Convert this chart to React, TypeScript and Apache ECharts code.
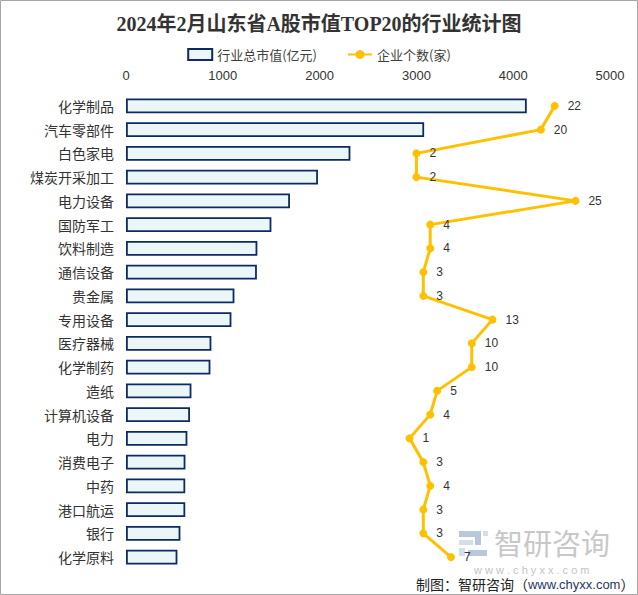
import React, { useEffect, useRef } from "react";
import * as echarts from "echarts";

const categories = [
  "化学制品", "汽车零部件", "白色家电", "煤炭开采加工", "电力设备",
  "国防军工", "饮料制造", "通信设备", "贵金属", "专用设备",
  "医疗器械", "化学制药", "造纸", "计算机设备", "电力",
  "消费电子", "中药", "港口航运", "银行", "化学原料",
];
const marketValues = [
  4140, 3080, 2318, 1983, 1694,
  1502, 1357, 1352, 1120, 1089,
  882, 872, 676, 661, 634,
  614, 612, 612, 562, 531,
];
const companyCounts = [22, 20, 2, 2, 25, 4, 4, 3, 3, 13, 10, 10, 5, 4, 1, 3, 4, 3, 3, 7];
const xTicks = { min: 0, max: 5000, interval: 1000 };

export default function App() {
  const ref = useRef<HTMLDivElement>(null);
  useEffect(() => {
    if (!ref.current) return;
    const chart = echarts.init(ref.current, null, { renderer: "svg" });
    const cjk = "'Noto Sans CJK SC', 'Noto Sans', sans-serif";
    chart.setOption({
      animation: false,
      backgroundColor: "#ffffff",
      textStyle: { fontFamily: cjk },
      title: {
        text: "2024年2月山东省A股市值TOP20的行业统计图",
        left: "center",
        top: 9,
        textStyle: {
          fontFamily: "'Liberation Serif', 'Noto Sans CJK SC', serif",
          fontSize: 20,
          fontWeight: "bold",
          color: "#333333",
        },
      },
      legend: {
        top: 43,
        left: "center",
        itemGap: 30,
        itemWidth: 24,
        itemHeight: 11,
        textStyle: { fontSize: 13, color: "#404040", fontFamily: cjk },
        data: [
          { name: "行业总市值(亿元)", icon: "rect" },
          { name: "企业个数(家)" },
        ],
      },
      grid: { left: 126, right: 28, top: 94, bottom: 26, containLabel: false },
      xAxis: [
        {
          type: "value",
          position: "top",
          min: xTicks.min,
          max: xTicks.max,
          interval: xTicks.interval,
          axisLine: { show: false },
          axisTick: { show: false },
          splitLine: { show: false },
          axisLabel: {
            color: "#333333",
            fontSize: 13,
            margin: 12,
            fontFamily: "'Liberation Sans', Arial, sans-serif",
            formatter: (v: number) => String(v),
          },
        },
        {
          type: "value",
          show: false,
          min: -40,
          max: 30,
          splitLine: { show: false },
        },
      ],
      yAxis: {
        type: "category",
        inverse: true,
        data: categories,
        axisLine: { show: false },
        axisTick: { show: false },
        axisLabel: { color: "#333333", fontSize: 14, margin: 12, fontFamily: cjk },
      },
      series: [
        {
          name: "行业总市值(亿元)",
          type: "bar",
          xAxisIndex: 0,
          data: marketValues,
          barCategoryGap: "37%",
          itemStyle: { color: "#EBF6F7", borderColor: "#0C2A63", borderWidth: 1.8 },
        },
        {
          name: "企业个数(家)",
          type: "line",
          xAxisIndex: 1,
          data: companyCounts,
          symbol: "circle",
          symbolSize: 8,
          lineStyle: { color: "#FFC000", width: 3 },
          itemStyle: { color: "#FFC000" },
          z: 3,
          label: {
            show: true,
            position: "right",
            distance: 9,
            color: "#333333",
            fontSize: 12,
            fontFamily: "'Liberation Sans', Arial, sans-serif",
          },
        },
      ],
      graphic: [
        {
          type: "rect",
          shape: { x: 0.5, y: 0.5, width: 637, height: 594 },
          style: { fill: "none", stroke: "#a6a6a6", lineWidth: 1 },
          silent: true,
          z: 100,
        },
        { type: "rect", shape: { x: 459, y: 531, width: 22, height: 6 }, style: { fill: "#b9c7da" }, z: 1 },
        { type: "rect", shape: { x: 475, y: 531, width: 6, height: 14 }, style: { fill: "#b9c7da" }, z: 1 },
        { type: "rect", shape: { x: 459, y: 540, width: 14, height: 5 }, style: { fill: "#d4dde9" }, z: 1 },
        { type: "rect", shape: { x: 459, y: 548, width: 6, height: 8 }, style: { fill: "#d4dde9" }, z: 1 },
        { type: "rect", shape: { x: 468, y: 550, width: 19, height: 6 }, style: { fill: "#b9c7da" }, z: 1 },
        { type: "rect", shape: { x: 483, y: 531, width: 5, height: 5 }, style: { fill: "#d4dde9" }, z: 1 },
        {
          type: "text",
          x: 494,
          y: 527,
          z: 1,
          style: { text: "智研咨询", fontSize: 29, fill: "#c8c8c8", fontFamily: cjk },
        },
        {
          type: "text",
          x: 474,
          y: 564,
          z: 1,
          style: { text: "w w w . c h y x x . c o m", fontSize: 11, fill: "#c4c4c4", fontFamily: "'Liberation Sans', Arial, sans-serif" },
        },
        {
          type: "text",
          x: 416,
          y: 577,
          z: 2,
          style: {
            text: "{a|制图：智研咨询（}{b|www.chyxx.com}{a|）}",
            rich: {
              a: { fontSize: 14, fill: "#222222", fontFamily: cjk },
              b: { fontSize: 13, fill: "#1F3864", fontFamily: "'Liberation Sans', Arial, sans-serif" },
            },
          },
        },
      ],
    });
    return () => chart.dispose();
  }, []);
  return (
    <div
      ref={ref}
      style={{ position: "fixed", left: 0, top: 0, width: 638, height: 595 }}
    />
  );
}
